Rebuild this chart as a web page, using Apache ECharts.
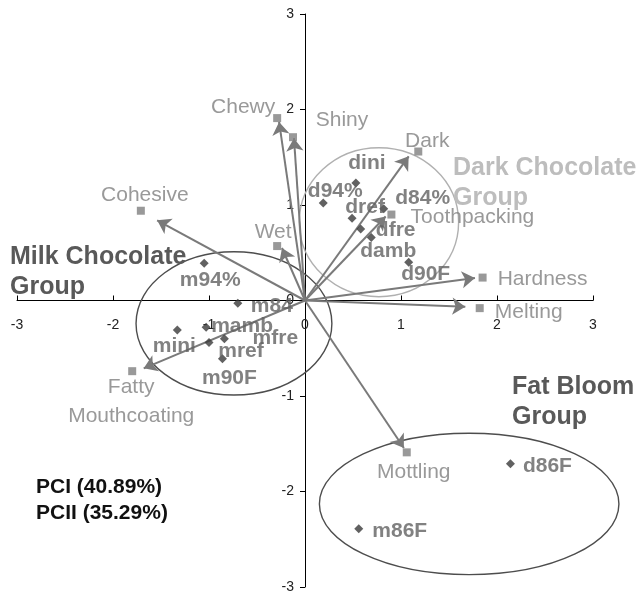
<!DOCTYPE html>
<html>
<head>
<meta charset="utf-8">
<script src="https://cdn.jsdelivr.net/npm/echarts@6/dist/echarts.min.js"></script>
<style>
html,body{margin:0;padding:0;background:#fff;}
#chart{width:642px;height:594px;}
</style>
</head>
<body>
<div id="chart"></div>
<script>
// ---- data ----
var tickValues = [-3, -2, -1, 0, 1, 2, 3];

var attrNames = ['Chewy', 'Shiny', 'Cohesive', 'Wet', 'Dark', 'Toothpacking', 'Hardness', 'Melting', 'Mottling', 'Fatty\nMouthcoating'];
var attrX = [-0.29, -0.125, -1.71, -0.29, 1.18, 0.90, 1.85, 1.82, 1.06, -1.80];
var attrY = [1.91, 1.71, 0.94, 0.57, 1.56, 0.90, 0.24, -0.08, -1.59, -0.74];
var arrowTipX = [-0.27, -0.115, -1.54, -0.24, 1.08, 0.84, 1.77, 1.67, 1.03, -1.68];
var arrowTipY = [1.87, 1.70, 0.84, 0.55, 1.51, 0.88, 0.235, -0.065, -1.545, -0.71];

var sampleNames = ['m94%', 'm84', 'mamb', 'mini', 'mref', 'mfre', 'm90F', 'dini', 'd94%', 'dref', 'd84%', 'dfre', 'damb', 'd90F', 'd86F', 'm86F'];
var sampleX = [-1.05, -0.70, -1.03, -1.33, -1.00, -0.84, -0.86, 0.53, 0.19, 0.49, 0.82, 0.58, 0.69, 1.08, 2.14, 0.56];
var sampleY = [0.39, -0.03, -0.28, -0.31, -0.44, -0.40, -0.61, 1.23, 1.02, 0.86, 0.96, 0.75, 0.66, 0.40, -1.71, -2.39];

var groupNames = ['Milk', 'Dark', 'FatBloom'];
var groupCX = [-0.74, 0.77, 1.71];
var groupCY = [-0.24, 0.82, -2.13];
var groupRX = [1.02, 0.83, 1.56];
var groupRY = [0.75, 0.78, 0.74];

// ---- layout / styles ----
var W = 642, H = 594;
var GRID = { left: 17, right: 49, top: 14, bottom: 7 };
var FONT = '"Liberation Sans", Arial, sans-serif';
var attrLabelOffset = {
  'Chewy': [-34, -11], 'Shiny': [49, -17], 'Cohesive': [4, -16], 'Wet': [-4, -14],
  'Dark': [9, -10], 'Toothpacking': [81, 3], 'Hardness': [60, 2], 'Melting': [49, 4],
  'Mottling': [7, 20], 'Fatty\nMouthcoating': [-1, 31]
};
var sampleLabelOffset = {
  'm94%': [6, 17], 'm84': [34, 3], 'mamb': [36, -1], 'mini': [-3, 16], 'mref': [32, 9],
  'mfre': [51, 0], 'm90F': [7, 19], 'dini': [11, -20], 'd94%': [12, -12], 'dref': [13, -11],
  'd84%': [39, -11], 'dfre': [35, 1], 'damb': [17, 14], 'd90F': [17, 12], 'd86F': [37, 2], 'm86F': [41, 2]
};
var groupStroke = { 'Milk': '#4d4d4d', 'Dark': '#b0b0b0', 'FatBloom': '#4d4d4d' };

var xMin = tickValues[0], xMax = tickValues[tickValues.length - 1];
var yMin = xMin, yMax = xMax;
// place each axis through the origin by shifting it from the grid edge
var gridW = W - GRID.left - GRID.right, gridH = H - GRID.top - GRID.bottom;
var xAxisOffset = -gridH * (0 - yMin) / (yMax - yMin);
var yAxisOffset = -gridW * (0 - xMin) / (xMax - xMin);

// ---- build series ----
var attrData = attrNames.map(function (n, i) {
  return { name: n, value: [attrX[i], attrY[i]], label: { offset: attrLabelOffset[n] } };
});
var arrowData = attrNames.map(function (n, i) {
  return { coords: [[0, 0], [arrowTipX[i], arrowTipY[i]]] };
});
var sampleData = sampleNames.map(function (n, i) {
  return { name: n, value: [sampleX[i], sampleY[i]], label: { offset: sampleLabelOffset[n] } };
});
var ellipseData = groupNames.map(function (n, i) {
  return { name: n, value: [groupCX[i], groupCY[i], groupRX[i], groupRY[i]] };
});

function axisBase(min, max) {
  return {
    type: 'value', min: min, max: max, interval: tickValues[1] - tickValues[0],
    axisLine: { onZero: false, lineStyle: { color: '#000', width: 1 } },
    splitLine: { show: false },
    axisLabel: { color: '#222', fontSize: 14, fontFamily: FONT, showMinLabel: true, showMaxLabel: true, hideOverlap: false }
  };
}

var chart = echarts.init(document.getElementById('chart'), null, { renderer: 'canvas' });
var xAxis = axisBase(xMin, xMax);
xAxis.position = 'bottom';
xAxis.offset = xAxisOffset;
xAxis.axisTick = { show: true, inside: true, length: 5, lineStyle: { color: '#000' } };
xAxis.axisLabel.margin = 18;
var yAxis = axisBase(yMin, yMax);
yAxis.position = 'left';
yAxis.offset = yAxisOffset;
yAxis.axisTick = { show: true, inside: false, length: 5, lineStyle: { color: '#000' } };
yAxis.axisLabel.margin = 11;

chart.setOption({
  animation: false,
  backgroundColor: '#fff',
  grid: { left: GRID.left, right: GRID.right, top: GRID.top, bottom: GRID.bottom, containLabel: false, outerBoundsMode: 'none' },
  xAxis: xAxis,
  yAxis: yAxis,
  series: [
    {
      type: 'custom',
      name: 'groups',
      coordinateSystem: 'cartesian2d',
      silent: true,
      z: 1,
      data: ellipseData,
      renderItem: function (params, api) {
        var c = api.coord([api.value(0), api.value(1)]);
        var s = api.size([api.value(2), api.value(3)]);
        var n = groupNames[params.dataIndex];
        return {
          type: 'ellipse',
          shape: { cx: c[0], cy: c[1], rx: s[0], ry: s[1] },
          style: { fill: 'none', stroke: groupStroke[n], lineWidth: 1.4 }
        };
      }
    },
    {
      type: 'lines',
      coordinateSystem: 'cartesian2d',
      z: 3,
      silent: true,
      symbol: ['none', 'arrow'],
      symbolSize: [0, 13],
      lineStyle: { color: '#7a7a7a', width: 2, opacity: 1, curveness: 0 },
      data: arrowData
    },
    {
      type: 'scatter',
      name: 'attributes',
      z: 4,
      symbol: 'rect',
      symbolSize: 8,
      clip: false,
      itemStyle: { color: '#808080' },
      label: {
        show: true, position: 'inside', formatter: '{b}',
        color: '#808080', fontSize: 21, fontFamily: FONT, lineHeight: 29, align: 'center'
      },
      data: attrData
    },
    {
      type: 'scatter',
      name: 'samples',
      z: 5,
      symbol: 'diamond',
      symbolSize: 9,
      clip: false,
      itemStyle: { color: '#3a3a3a' },
      label: {
        show: true, position: 'inside', formatter: '{b}',
        color: '#626262', fontSize: 21, fontWeight: 'bold', fontFamily: FONT
      },
      data: sampleData
    }
  ],
  graphic: [
    { type: 'text', left: 10, top: 242, z: 10,
      style: { text: 'Milk Chocolate\nGroup', fontSize: 25, fontWeight: 'bold', fontFamily: FONT, fill: '#595959', lineHeight: 30 } },
    { type: 'text', left: 453, top: 153, z: 10,
      style: { text: 'Dark Chocolate\nGroup', fontSize: 25, fontWeight: 'bold', fontFamily: FONT, fill: '#bdbdbd', lineHeight: 30 } },
    { type: 'text', left: 512, top: 372, z: 10,
      style: { text: 'Fat Bloom\nGroup', fontSize: 25, fontWeight: 'bold', fontFamily: FONT, fill: '#595959', lineHeight: 30 } },
    { type: 'text', left: 36, top: 474, z: 10,
      style: { text: 'PCI (40.89%)\nPCII (35.29%)', fontSize: 21, fontWeight: 'bold', fontFamily: FONT, fill: '#111', lineHeight: 26 } }
  ]
});
</script>
</body>
</html>
